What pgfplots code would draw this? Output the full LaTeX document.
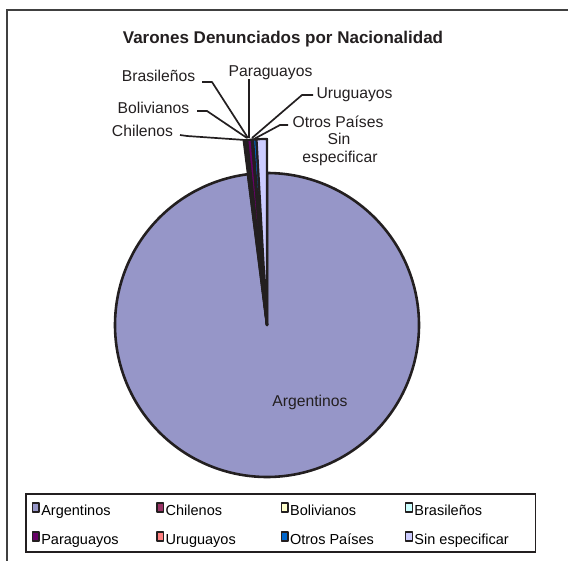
\documentclass[border=0pt]{standalone}
\usepackage{pgfplots}
\usepackage{pgfplotstable}
\pgfplotsset{compat=1.18}
\usepackage{fontspec}
\setmainfont{Liberation Sans}
\definecolor{argcol}{HTML}{9696C8}
\definecolor{chicol}{HTML}{993366}
\definecolor{bolcol}{HTML}{FFFFCC}
\definecolor{bracol}{HTML}{CCFFFF}
\definecolor{parcol}{HTML}{660066}
\definecolor{urucol}{HTML}{FF8080}
\definecolor{otrcol}{HTML}{0066CC}
\definecolor{sincol}{HTML}{CCCCFF}
\definecolor{edge}{HTML}{231F20}
\pgfplotstableread{
nat val
Argentinos 98.0
Chilenos 0.15
Bolivianos 0.10
Brasilenos 0.05
Paraguayos 0.40
Uruguayos 0.10
Otros 0.30
Sin 0.90
}\nacdata
\begin{document}%
\begin{tikzpicture}
% cumulative angles (degrees, clockwise from 12 o'clock)
\pgfplotstablegetelem{0}{val}\of\nacdata\pgfmathsetmacro\aA{0}\pgfmathsetmacro\bA{\aA+3.6*\pgfplotsretval}
\pgfplotstablegetelem{1}{val}\of\nacdata\pgfmathsetmacro\bB{\bA+3.6*\pgfplotsretval}
\pgfplotstablegetelem{2}{val}\of\nacdata\pgfmathsetmacro\bC{\bB+3.6*\pgfplotsretval}
\pgfplotstablegetelem{3}{val}\of\nacdata\pgfmathsetmacro\bD{\bC+3.6*\pgfplotsretval}
\pgfplotstablegetelem{4}{val}\of\nacdata\pgfmathsetmacro\bE{\bD+3.6*\pgfplotsretval}
\pgfplotstablegetelem{5}{val}\of\nacdata\pgfmathsetmacro\bF{\bE+3.6*\pgfplotsretval}
\pgfplotstablegetelem{6}{val}\of\nacdata\pgfmathsetmacro\bG{\bF+3.6*\pgfplotsretval}
\pgfplotstablegetelem{7}{val}\of\nacdata\pgfmathsetmacro\bH{\bG+3.6*\pgfplotsretval}
\def\cx{267}\def\cy{325}\def\rA{152}\def\rS{186}
\begin{axis}[
  name=ax,
  scale only axis, width=568bp, height=561bp,
  xmin=0, xmax=568, ymin=0, ymax=561, y dir=reverse,
  axis lines=none, ticks=none,
  legend columns=4,
  legend image code/.code={\draw[#1, line width=1.4pt, draw=edge] (0.5bp,-3.5bp) rectangle (7bp,5.5bp);},
  legend style={at={(axis cs:25,493)}, anchor=north west, draw=edge, line width=1.8pt, fill=white,
    font=\fontsize{14.5bp}{16bp}\selectfont,
    inner xsep=6bp, inner ysep=5.5bp,
    nodes={inner sep=0pt, text height=16bp, text depth=2bp},
    row sep=11bp,
    /tikz/every odd column/.append style={column sep=1.5bp},
    /tikz/every even column/.append style={column sep=0bp}},
]
\addplot[fill=argcol, draw=edge, line width=2.6pt, line join=round, domain=\aA:\bA, samples=300] ({\cx+\rA*sin(x)},{\cy-\rA*cos(x)}) -- (axis cs:\cx,\cy) -- cycle;
\addlegendentry{\makebox[115bp][l]{Argentinos}}
\addplot[fill=chicol, draw=edge, line width=2.2pt, line join=round, domain=\bA:\bB, samples=5] ({\cx+\rS*sin(x)},{\cy-\rS*cos(x)}) -- (axis cs:\cx,\cy) -- cycle;
\addlegendentry{\makebox[115bp][l]{Chilenos}}
\addplot[fill=bolcol, draw=edge, line width=2.2pt, line join=round, domain=\bB:\bC, samples=5] ({\cx+\rS*sin(x)},{\cy-\rS*cos(x)}) -- (axis cs:\cx,\cy) -- cycle;
\addlegendentry{\makebox[115bp][l]{Bolivianos}}
\addplot[fill=bracol, draw=edge, line width=2.2pt, line join=round, domain=\bC:\bD, samples=5] ({\cx+\rS*sin(x)},{\cy-\rS*cos(x)}) -- (axis cs:\cx,\cy) -- cycle;
\addlegendentry{\makebox[115bp][l]{Brasileños}}
\addplot[fill=parcol, draw=edge, line width=2.2pt, line join=round, domain=\bD:\bE, samples=5] ({\cx+\rS*sin(x)},{\cy-\rS*cos(x)}) -- (axis cs:\cx,\cy) -- cycle;
\addlegendentry{\makebox[115bp][l]{Paraguayos}}
\addplot[fill=urucol, draw=edge, line width=2.2pt, line join=round, domain=\bE:\bF, samples=5] ({\cx+\rS*sin(x)},{\cy-\rS*cos(x)}) -- (axis cs:\cx,\cy) -- cycle;
\addlegendentry{\makebox[115bp][l]{Uruguayos}}
\addplot[fill=otrcol, draw=edge, line width=2.2pt, line join=round, domain=\bF:\bG, samples=5] ({\cx+\rS*sin(x)},{\cy-\rS*cos(x)}) -- (axis cs:\cx,\cy) -- cycle;
\addlegendentry{\makebox[115bp][l]{Otros Países}}
\addplot[fill=sincol, draw=edge, line width=2.2pt, line join=round, domain=\bG:\bH, samples=5] ({\cx+\rS*sin(x)},{\cy-\rS*cos(x)}) -- (axis cs:\cx,\cy) -- cycle;
\addlegendentry{\makebox[115bp][l]{Sin especificar}}
% leader lines
\begin{scope}[every path/.style={draw=edge, line width=1.7pt, line join=round}]
\draw (axis cs:180,135) -- (axis cs:187,136) -- (axis cs:245,140);
\draw (axis cs:197,111) -- (axis cs:207,111) -- (axis cs:247,138);
\draw (axis cs:202,82) -- (axis cs:212,82) -- (axis cs:248,138);
\draw (axis cs:249,79) -- (axis cs:249,138);
\draw (axis cs:313,95) -- (axis cs:302,95) -- (axis cs:252,138);
\draw (axis cs:288,125) -- (axis cs:280,125) -- (axis cs:254,139);
\end{scope}
% labels
\begin{scope}[every node/.style={font=\fontsize{15.7bp}{18bp}\selectfont, inner sep=0pt, anchor=base, text=edge}]
\node at (axis cs:142.5,136) {Chilenos};
\node at (axis cs:153.5,113) {Bolivianos};
\node at (axis cs:158.5,82) {Brasileños};
\node at (axis cs:270.5,77) {Paraguayos};
\node at (axis cs:354.5,98) {Uruguayos};
\node at (axis cs:338,127) {Otros Países};
\node at (axis cs:339,144) {Sin};
\node at (axis cs:340,162) {especificar};
\node at (axis cs:310,406) {Argentinos};
\end{scope}
\node[font=\bfseries\fontsize{17bp}{20bp}\selectfont, inner sep=0pt, anchor=base, text=edge] at (axis cs:283,43.5) {Varones Denunciados por Nacionalidad};
\draw[line width=2.2pt, black!75] (axis cs:7,561) -- (axis cs:7,10) -- (axis cs:568,10);
\end{axis}
\pgfresetboundingbox
\useasboundingbox (ax.south west) rectangle (ax.north east);
\end{tikzpicture}%
\end{document}
